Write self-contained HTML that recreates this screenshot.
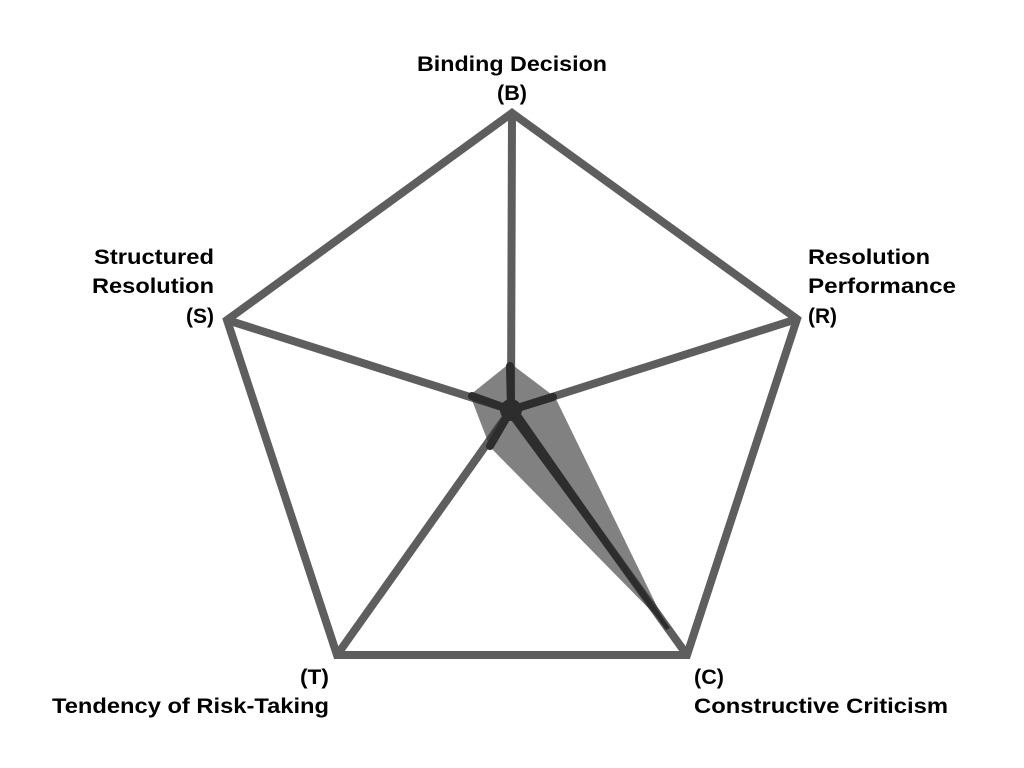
<!DOCTYPE html>
<html><head><style>
html,body{margin:0;padding:0;background:#fff;width:1024px;height:768px;overflow:hidden}
svg{display:block}
text{font-family:"Liberation Sans",sans-serif;font-weight:bold;font-size:21px;fill:#000}
</style></head><body>
<svg width="1024" height="768" viewBox="0 0 1024 768">
<g stroke="#5e5e5e" stroke-width="8" fill="none" stroke-linejoin="miter">
<polygon points="512,113 797,319 687,655 337,655 227,320"/>
<line x1="511" y1="410" x2="512" y2="113"/>
<line x1="511" y1="410" x2="797" y2="319"/>
<line x1="511" y1="410" x2="687" y2="655"/>
<line x1="511" y1="410" x2="337" y2="655"/>
<line x1="511" y1="410" x2="227" y2="320"/>
</g>
<polygon points="510,363 555,397 667,627 490,447 470,395" fill="#2d2d2d" fill-opacity="0.6"/>
<g stroke="#2d2d2d" stroke-width="8" stroke-linecap="round">
<line x1="511" y1="410" x2="510" y2="366"/>
<line x1="511" y1="410" x2="553" y2="397"/>
<line x1="511" y1="410" x2="490" y2="446"/>
<line x1="511" y1="410" x2="472" y2="396"/>
</g>
<polygon points="506,413 516,407 670,628 666,630" fill="#2d2d2d"/>
<circle cx="511" cy="410" r="11" fill="#2d2d2d"/>
<text x="417" y="71" textLength="190" lengthAdjust="spacingAndGlyphs">Binding Decision</text>
<text x="497" y="100" textLength="30" lengthAdjust="spacingAndGlyphs">(B)</text>
<text x="808" y="264" textLength="122" lengthAdjust="spacingAndGlyphs">Resolution</text>
<text x="808" y="293" textLength="148" lengthAdjust="spacingAndGlyphs">Performance</text>
<text x="808" y="323" textLength="29" lengthAdjust="spacingAndGlyphs">(R)</text>
<text x="94" y="264" textLength="120" lengthAdjust="spacingAndGlyphs">Structured</text>
<text x="92" y="293" textLength="122" lengthAdjust="spacingAndGlyphs">Resolution</text>
<text x="186" y="323" textLength="28" lengthAdjust="spacingAndGlyphs">(S)</text>
<text x="300" y="684" textLength="29" lengthAdjust="spacingAndGlyphs">(T)</text>
<text x="52" y="713" textLength="277" lengthAdjust="spacingAndGlyphs">Tendency of Risk-Taking</text>
<text x="694" y="684" textLength="30" lengthAdjust="spacingAndGlyphs">(C)</text>
<text x="694" y="713" textLength="254" lengthAdjust="spacingAndGlyphs">Constructive Criticism</text>
</svg>
</body></html>
